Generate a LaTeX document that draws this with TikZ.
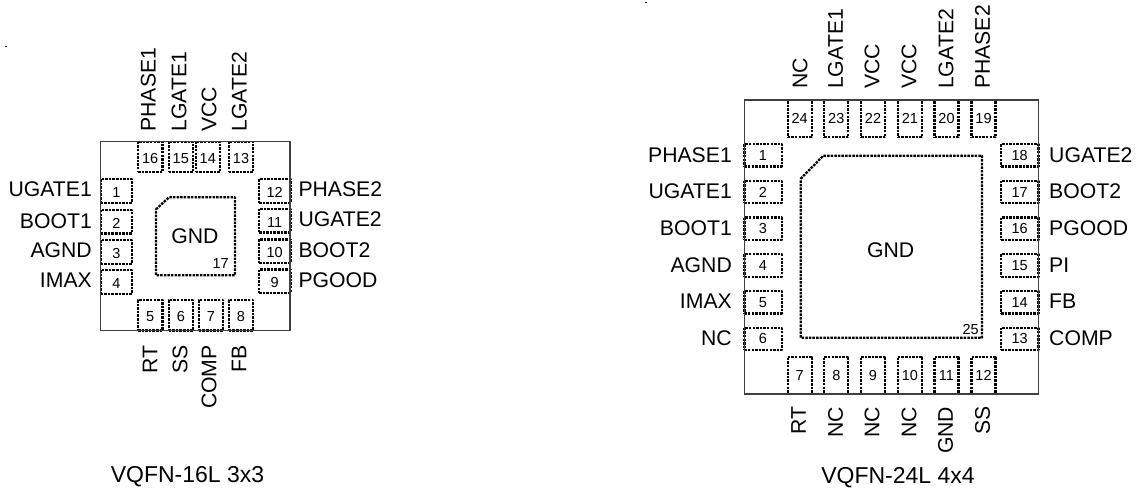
\documentclass[tikz,border=0pt]{standalone}
\usepackage{fontspec}
\setmainfont{Liberation Sans}
\tikzset{
	padline/.style={draw=black,line width=2.3pt,line join=round,dash pattern=on 2.5pt off 1.1pt},
	pad/.style={rectangle,padline,inner sep=0pt,outer sep=0pt,text height=10pt,text depth=0pt,font=\fontsize{14.5}{14.5}\selectfont},
	padav/.style={pad,minimum width=24.3pt,minimum height=30.6pt,text height=12pt},
	padah/.style={pad,minimum width=31.3pt,minimum height=23.7pt,text height=13pt},
	padbv/.style={pad,minimum width=24pt,minimum height=37.3pt},
	padbh/.style={pad,minimum width=37.3pt,minimum height=22.5pt},
	chip/.style={rectangle,draw=black!75,line width=1.1pt,inner sep=0pt,outer sep=0pt},
	pin/.style={inner sep=0pt,font=\fontsize{21.2}{24}\selectfont},
	pinup/.style={pin,rotate=90,anchor=west},
	pindown/.style={pin,rotate=90,anchor=east},
	pinleft/.style={pin,anchor=east},
	pinright/.style={pin,anchor=west},
	caption/.style={inner sep=0pt,font=\fontsize{23}{26}\selectfont}
}
\begin{document}
\begin{tikzpicture}[x=1pt,y=-1pt]
	\useasboundingbox (0,0) rectangle (1142,493);
	\fill (5,45.5) rectangle (7,46.5);
	\fill (645,2) rectangle (647,3);
%	3x3 package
	\node [padav] (a16) at (150.2,157) {16};
	\node [padav] (a15) at (180.8,157) {15};
	\node [padav] (a14) at (207.8,157) {14};
	\node [padav] (a13) at (241,157) {13};
	\node [padav] (a5) at (150.2,315.3) {5};
	\node [padav] (a6) at (180.8,315.3) {6};
	\node [padav] (a7) at (211,315.3) {7};
	\node [padav] (a8) at (241,315.3) {8};
	\node [padah] (a1) at (116.3,190.8) {1};
	\node [padah] (a2) at (116.3,221.7) {2};
	\node [padah] (a3) at (116.3,252) {3};
	\node [padah] (a4) at (116.3,282) {4};
	\node [padah] (a12) at (274.7,190.8) {12};
	\node [padah] (a11) at (274.7,220.5) {11};
	\node [padah] (a10) at (274.7,251.2) {10};
	\node [padah] (a9) at (274.7,281.3) {9};
	\draw [padline] (156,209.3) -- (169,197.3) -- (235,197.3) -- (235,275.3) -- (156,275.3) -- cycle;
	\node [chip,minimum size=189.3pt] (chipa) at (195.3,236.1) {};
	\node [pin] (gnda) at (195,235.7) {GND};
	\node [font=\fontsize{14.5}{14.5}\selectfont,inner sep=0pt] (numa) at (220.7,263.3) {17};
	\node [pinup] (a16l) at (148.3,131.7) {PHASE1};
	\node [pinup] (a15l) at (179,131.7) {LGATE1};
	\node [pinup] (a14l) at (209,131.7) {VCC};
	\node [pinup] (a13l) at (239.3,131.7) {LGATE2};
	\node [pindown] (a5l) at (150,345) {RT};
	\node [pindown] (a6l) at (180,345) {SS};
	\node [pindown] (a7l) at (209,345) {COMP};
	\node [pindown] (a8l) at (239,345) {FB};
	\node [pinleft] (a1l) at (92,189) {UGATE1};
	\node [pinleft] (a2l) at (92,220.7) {BOOT1};
	\node [pinleft] (a3l) at (92,250.5) {AGND};
	\node [pinleft] (a4l) at (92,280.5) {IMAX};
	\node [pinright] (a12l) at (298.3,189) {PHASE2};
	\node [pinright] (a11l) at (298.3,219.5) {UGATE2};
	\node [pinright] (a10l) at (298.3,250) {BOOT2};
	\node [pinright] (a9l) at (298.3,280.5) {PGOOD};
	\node [caption] (capa) at (187.5,477) {VQFN-16L 3x3};
%	4x4 package
	\node [padbv] (b24) at (799.7,118.6) {24};
	\node [padbv] (b23) at (836.3,118.6) {23};
	\node [padbv] (b22) at (873,118.6) {22};
	\node [padbv] (b21) at (909.8,118.6) {21};
	\node [padbv] (b20) at (946.5,118.6) {20};
	\node [padbv] (b19) at (983.5,118.6) {19};
	\node [padbv] (b7) at (799.7,375.3) {7};
	\node [padbv] (b8) at (836.3,375.3) {8};
	\node [padbv] (b9) at (873,375.3) {9};
	\node [padbv] (b10) at (909.8,375.3) {10};
	\node [padbv] (b11) at (946.5,375.3) {11};
	\node [padbv] (b12) at (983.5,375.3) {12};
	\node [padbh] (b1) at (763,155.3) {1};
	\node [padbh] (b2) at (763,192) {2};
	\node [padbh] (b3) at (763,228.8) {3};
	\node [padbh] (b4) at (763,265.5) {4};
	\node [padbh] (b5) at (763,302.2) {5};
	\node [padbh] (b6) at (763,338.9) {6};
	\node [padbh] (b18) at (1019.7,155.3) {18};
	\node [padbh] (b17) at (1019.7,192) {17};
	\node [padbh] (b16) at (1019.7,228.8) {16};
	\node [padbh] (b15) at (1019.7,265.5) {15};
	\node [padbh] (b14) at (1019.7,302.2) {14};
	\node [padbh] (b13) at (1019.7,338.9) {13};
	\draw [padline] (800.7,178.7) -- (823.3,155.7) -- (982,155.7) -- (982,337.7) -- (800.7,337.7) -- cycle;
	\node [chip,minimum size=294pt] (chipb) at (891.3,247) {};
	\node [pin] (gndb) at (890.7,250) {GND};
	\node [font=\fontsize{14.5}{14.5}\selectfont,inner sep=0pt] (numb) at (970.7,329.3) {25};
	\node [pinup] (b24l) at (800,89) {NC};
	\node [pinup] (b23l) at (835.5,89) {LGATE1};
	\node [pinup] (b22l) at (872,89) {VCC};
	\node [pinup] (b21l) at (909,89) {VCC};
	\node [pinup] (b20l) at (946,89) {LGATE2};
	\node [pinup] (b19l) at (982.5,89) {PHASE2};
	\node [pindown] (b7l) at (798.5,406.5) {RT};
	\node [pindown] (b8l) at (835.5,406.5) {NC};
	\node [pindown] (b9l) at (872,406.5) {NC};
	\node [pindown] (b10l) at (909,406.5) {NC};
	\node [pindown] (b11l) at (945.5,406.5) {GND};
	\node [pindown] (b12l) at (982.5,406.5) {SS};
	\node [pinleft] (b1l) at (732,155) {PHASE1};
	\node [pinleft] (b2l) at (732,191.5) {UGATE1};
	\node [pinleft] (b3l) at (732,228) {BOOT1};
	\node [pinleft] (b4l) at (732,265) {AGND};
	\node [pinleft] (b5l) at (732,301.5) {IMAX};
	\node [pinleft] (b6l) at (732,338) {NC};
	\node [pinright] (b18l) at (1049,155) {UGATE2};
	\node [pinright] (b17l) at (1049,191.5) {BOOT2};
	\node [pinright] (b16l) at (1049,228) {PGOOD};
	\node [pinright] (b15l) at (1049,265) {PI};
	\node [pinright] (b14l) at (1049,301.5) {FB};
	\node [pinright] (b13l) at (1049,338) {COMP};
	\node [caption] (capb) at (898,478) {VQFN-24L 4x4};
\end{tikzpicture}
\end{document}
